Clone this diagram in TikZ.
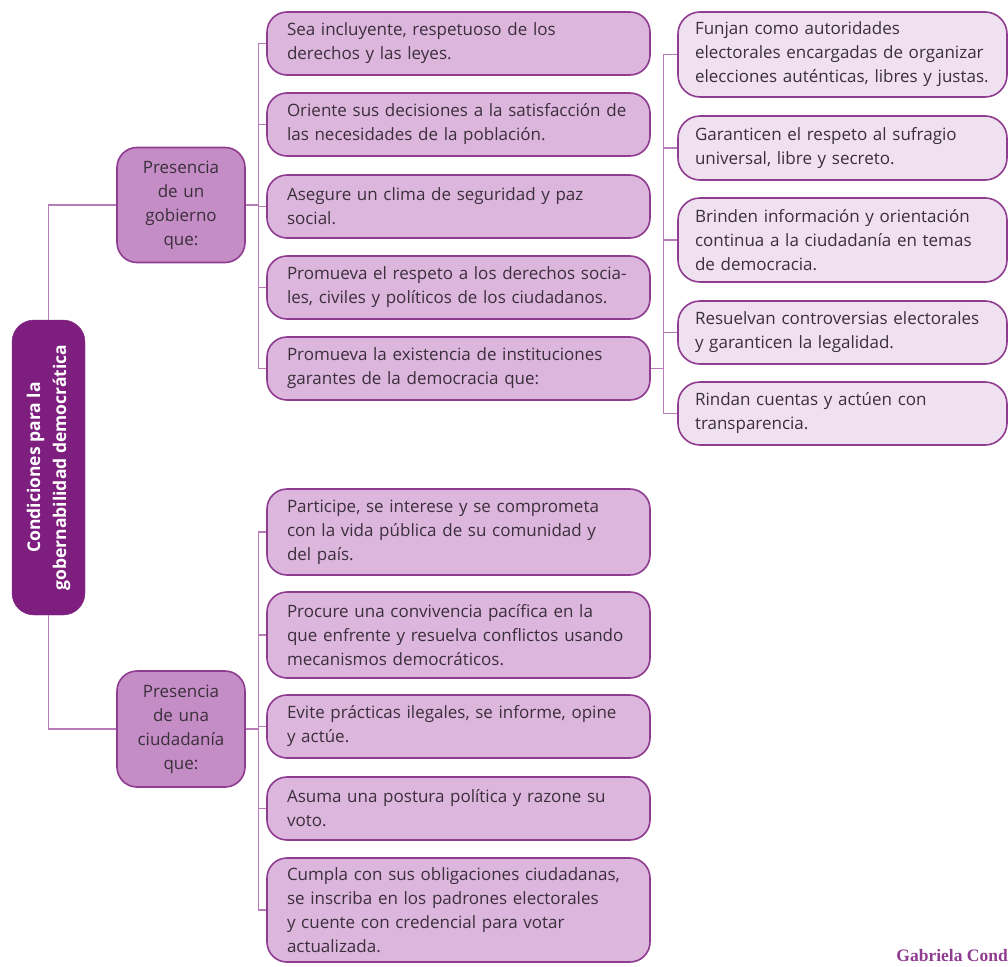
\documentclass[tikz,border=0pt]{standalone}
\usepackage{fontspec}
\setmainfont{Open Sans}
\newfontfamily\signfont{Liberation Serif}
\definecolor{govdark}{HTML}{7E1F80}
\definecolor{govmid}{HTML}{C48DC6}
\definecolor{govlight}{HTML}{DDB6DE}
\definecolor{govpale}{HTML}{F0E1F0}
\definecolor{govedge}{HTML}{8E3B90}
\definecolor{govline}{HTML}{B77BB8}
\definecolor{govtext}{HTML}{3B2F3B}
\usetikzlibrary{positioning}

\begin{document}
\begin{tikzpicture}[x=1pt, y=-1pt,
      rootbox/.style={draw=govdark, fill=govdark, rounded corners=22pt, rotate=90,
                    minimum width=295pt, minimum height=73pt, inner sep=2pt,
                    font=\fontsize{17.5}{26}\selectfont\bfseries, text=white, align=center},
      midbox/.style={draw=govedge, fill=govmid, line width=1.6pt, rounded corners=20pt,
                    minimum width=128pt, text width=120pt, inner xsep=4pt,
                    font=\fontsize{17}{24}\selectfont, text=govtext, align=center},
      leafbox/.style={draw=govedge, fill=govlight, line width=1.6pt, rounded corners=20pt,
                    minimum width=383pt, text width=343pt, inner xsep=20pt, inner ysep=2pt,
                    font=\fontsize{17}{24}\selectfont, text=govtext, align=left},
      subbox/.style={draw=govedge, fill=govpale, line width=1.6pt, rounded corners=22pt,
                    minimum width=329pt, text width=295pt, inner xsep=17pt, inner ysep=2pt,
                    font=\fontsize{17}{24}\selectfont, text=govtext, align=left},
      link/.style={draw=govline, line width=1.2pt}
    ]
      \useasboundingbox (0,0) rectangle (1008,966);

      % raiz
      \node[rootbox] (root) at (48.5,467.5) {Condiciones para la\\gobernabilidad democrática};

      % segundo nivel
      \node[midbox, minimum height=115pt] (gob) at (181,205) {Presencia\\de un\\gobierno\\que:};
      \node[midbox, minimum height=116pt] (ciu) at (181,729) {Presencia\\de una\\ciudadanía\\que:};

      % gobierno
      \node[leafbox, minimum height=63pt] (g1) at (458.5,43.5) {Sea incluyente, respetuoso de los\\derechos y las leyes.};
      \node[leafbox, minimum height=63pt] (g2) at (458.5,124.5) {Oriente sus decisiones a la satisfacción de\\las necesidades de la población.};
      \node[leafbox, minimum height=63pt] (g3) at (458.5,206.5) {Asegure un clima de seguridad y paz\\social.};
      \node[leafbox, minimum height=63pt] (g4) at (458.5,287.5) {Promueva el respeto a los derechos socia-\\les, civiles y políticos de los ciudadanos.};
      \node[leafbox, minimum height=63pt] (g5) at (458.5,368.5) {Promueva la existencia de instituciones\\garantes de la democracia que:};

      % instituciones
      \node[subbox, minimum height=85pt] (i1) at (842.5,54.5) {Funjan como autoridades\\electorales encargadas de organizar\\elecciones auténticas, libres y justas.};
      \node[subbox, minimum height=64pt] (i2) at (842.5,148) {Garanticen el respeto al sufragio\\universal, libre y secreto.};
      \node[subbox, minimum height=84pt] (i3) at (842.5,240) {Brinden información y orientación\\continua a la ciudadanía en temas\\de democracia.};
      \node[subbox, minimum height=63pt] (i4) at (842.5,332.5) {Resuelvan controversias electorales\\y garanticen la legalidad.};
      \node[subbox, minimum height=63pt] (i5) at (842.5,413.5) {Rindan cuentas y actúen con\\transparencia.};

      % ciudadania
      \node[leafbox, minimum height=86pt] (c1) at (458.5,532) {Participe, se interese y se comprometa\\con la vida pública de su comunidad y\\del país.};
      \node[leafbox, minimum height=86pt] (c2) at (458.5,635) {Procure una convivencia pacífica en la\\que enfrente y resuelva conflictos usando\\mecanismos democráticos.};
      \node[leafbox, minimum height=63pt] (c3) at (458.5,726.5) {Evite prácticas ilegales, se informe, opine\\y actúe.};
      \node[leafbox, minimum height=63pt] (c4) at (458.5,808.5) {Asuma una postura política y razone su\\voto.};
      \node[leafbox, minimum height=104pt] (c5) at (458.5,910) {Cumpla con sus obligaciones ciudadanas,\\se inscriba en los padrones electorales\\y cuente con credencial para votar\\actualizada.};

      \node[anchor=east, inner sep=0pt, text=govedge, font=\signfont\bfseries\fontsize{17.5}{20}\selectfont]
        (firma) at (1008,955) {Gabriela Cond};

      % conectores
      \draw[link] (root.east) |- (gob.west);
      \draw[link] (root.west) |- (ciu.west);
      \foreach \n in {1,...,5} {
        \draw[link] (gob.east) -- ++(13,0) |- (g\n.west);
        \draw[link] (ciu.east) -- ++(13,0) |- (c\n.west);
        \draw[link] (g5.east) -- ++(13,0) |- (i\n.west);
      }
    \end{tikzpicture}
\end{document}
